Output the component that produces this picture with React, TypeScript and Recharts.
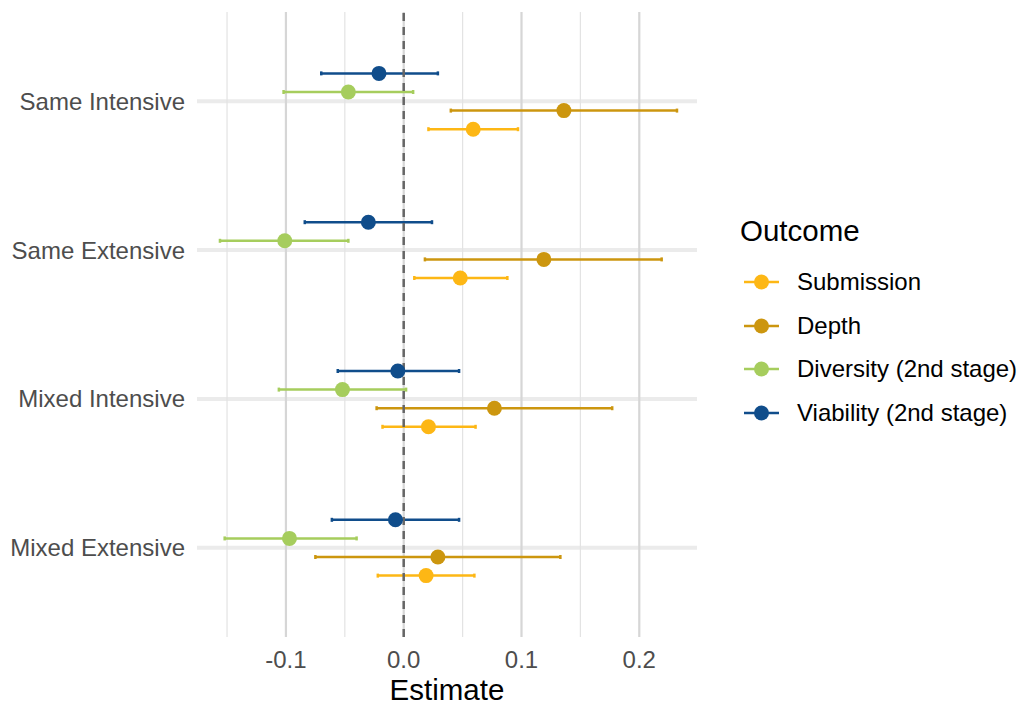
import { ScatterChart, Scatter, XAxis, YAxis, CartesianGrid, ErrorBar, ReferenceLine } from 'recharts';

const categories = ['Same Intensive', 'Same Extensive', 'Mixed Intensive', 'Mixed Extensive'];
const xTicks = [-0.1, 0, 0.1, 0.2];
const xMinor = [-0.15, -0.05, 0.05, 0.15];

const submissionEst = [0.059, 0.048, 0.021, 0.019];
const submissionLo = [0.021, 0.009, -0.018, -0.022];
const submissionHi = [0.097, 0.088, 0.061, 0.06];

const depthEst = [0.136, 0.119, 0.077, 0.029];
const depthLo = [0.04, 0.018, -0.023, -0.075];
const depthHi = [0.232, 0.219, 0.177, 0.133];

const diversityEst = [-0.047, -0.101, -0.052, -0.097];
const diversityLo = [-0.102, -0.156, -0.106, -0.152];
const diversityHi = [0.008, -0.047, 0.002, -0.04];

const viabilityEst = [-0.021, -0.03, -0.005, -0.007];
const viabilityLo = [-0.07, -0.084, -0.056, -0.061];
const viabilityHi = [0.029, 0.024, 0.047, 0.047];

const FONT = "'Liberation Sans', Arial, sans-serif";
const TICK_COLOR = '#4D4D4D';

// dodge offsets in category units (width 0.5, 4 groups)
const outcomes = [
  { name: 'Submission', color: '#FDB715', est: submissionEst, lo: submissionLo, hi: submissionHi, dodge: -0.1875 },
  { name: 'Depth', color: '#CC960F', est: depthEst, lo: depthLo, hi: depthHi, dodge: -0.0625 },
  { name: 'Diversity (2nd stage)', color: '#A6CD5D', est: diversityEst, lo: diversityLo, hi: diversityHi, dodge: 0.0625 },
  { name: 'Viability (2nd stage)', color: '#104D8B', est: viabilityEst, lo: viabilityLo, hi: viabilityHi, dodge: 0.1875 },
];

// categories listed top to bottom; numeric position 4..1
const catPos = (i: number) => categories.length - i;

const buildRows = (o: (typeof outcomes)[number]) =>
  categories.map((c, i) => ({
    category: c,
    x: o.est[i],
    y: catPos(i) + o.dodge,
    err: [o.est[i] - o.lo[i], o.hi[i] - o.est[i]],
  }));

const XTick = ({ x, payload }: any) => (
  <text x={x} y={668} textAnchor="middle" fill={TICK_COLOR} fontSize={24} fontFamily={FONT}>
    {payload.value.toFixed(1)}
  </text>
);

const YTick = ({ y, payload }: any) => (
  <text x={185} y={y + 8.5} textAnchor="end" fill={TICK_COLOR} fontSize={24} fontFamily={FONT}>
    {categories[categories.length - payload.value]}
  </text>
);

const Legendish = () => (
  <div style={{ position: 'absolute', left: 740, top: 213, fontFamily: FONT }}>
    <div style={{ fontSize: 29.5, color: '#000', lineHeight: '36px' }}>Outcome</div>
    <div style={{ marginTop: 11.5 }}>
      {outcomes.map((o) => (
        <div key={o.name} style={{ display: 'flex', alignItems: 'center', height: 43.5 }}>
          <svg width={40} height={20} style={{ marginLeft: 2 }}>
            <line x1={2} y1={10} x2={37} y2={10} stroke={o.color} strokeWidth={2.5} />
            <circle cx={19.5} cy={10} r={7.5} fill={o.color} />
          </svg>
          <span style={{ fontSize: 24, color: '#000', marginLeft: 15 }}>{o.name}</span>
        </div>
      ))}
    </div>
  </div>
);

export default function App() {
  return (
    <div style={{ position: 'absolute', left: 0, top: 0, width: 1021, height: 705, fontFamily: FONT, background: '#fff' }}>
      <ScatterChart width={1021} height={705} margin={{ top: 12, right: 324, bottom: 0, left: 0 }}>
        <CartesianGrid horizontalValues={[1, 2, 3, 4]} vertical={false} stroke="#EBEBEB" strokeWidth={4} />
        <CartesianGrid verticalValues={xMinor} horizontal={false} stroke="#E3E3E3" strokeWidth={1.2} />
        <CartesianGrid verticalValues={xTicks} horizontal={false} stroke="#D6D6D6" strokeWidth={2.2} />
        <XAxis
          type="number"
          dataKey="x"
          domain={[-0.1755, 0.249]}
          allowDataOverflow
          ticks={xTicks}
          axisLine={false}
          tickLine={false}
          height={68}
          tick={<XTick />}
          label={{ value: 'Estimate', position: 'insideBottom', offset: 5, fontSize: 29.5, fill: '#000', fontFamily: FONT }}
        />
        <YAxis
          type="number"
          dataKey="y"
          domain={[0.4, 4.6]}
          ticks={[1, 2, 3, 4]}
          axisLine={false}
          tickLine={false}
          width={197}
          tick={<YTick />}
        />
        {outcomes.map((o) => (
          <Scatter
            key={o.name}
            name={o.name}
            data={buildRows(o)}
            fill={o.color}
            isAnimationActive={false}
            shape={(p: any) => <circle cx={p.cx} cy={p.cy} r={7.5} fill={o.color} />}
          >
            <ErrorBar dataKey="err" direction="x" stroke={o.color} strokeWidth={2.5} width={2} />
          </Scatter>
        ))}
        <ReferenceLine x={0} stroke="#666666" strokeWidth={2.5} strokeDasharray="8 6" />
      </ScatterChart>
      <Legendish />
    </div>
  );
}
